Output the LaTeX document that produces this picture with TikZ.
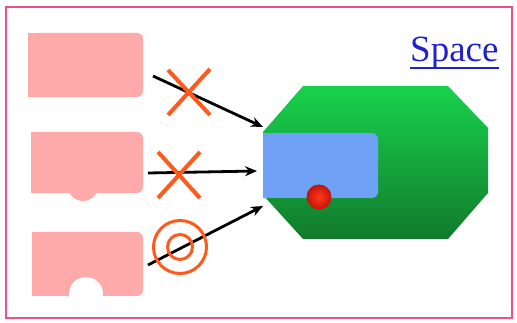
\documentclass[tikz,border=0pt]{standalone}
\usepackage{fontspec}
\setmainfont{Liberation Serif}
\usetikzlibrary{arrows.meta}
\definecolor{framepink}{HTML}{F0508A}
\definecolor{chip}{HTML}{FFAAAA}
\definecolor{markorange}{HTML}{FF5A1A}
\definecolor{greentop}{HTML}{18D24C}
\definecolor{greenmid}{HTML}{17B844}
\definecolor{greenbot}{HTML}{127A2C}
\definecolor{slot}{HTML}{6FA2F7}
\definecolor{linkblue}{HTML}{2222CC}
\definecolor{ballin}{HTML}{FF3A1A}
\definecolor{ballout}{HTML}{C41208}
\tikzset{
  chipbox/.style={rectangle, fill=chip, rounded corners=6pt, inner sep=0pt},
  link/.style={black, line width=2.8pt, -{Stealth[length=12pt,width=10pt]}},
  cross/.style={markorange, line width=4pt},
  ring/.style={markorange, line width=3pt},
}
\begin{document}
\begin{tikzpicture}[x=1pt,y=-1pt]
\useasboundingbox (0,0) rectangle (517,323);
\fill[white] (0,0) rectangle (517,323);
\draw[framepink, line width=2pt] (6,7) rectangle (512,318);

% three pieces on the left (square left side, rounded right side)
\node[chipbox, minimum width=115pt, minimum height=64pt] (c1) at (85.5,65) {};
\fill[chip] (c1.north west) rectangle ([xshift=20pt]c1.south west);
\node[chipbox, minimum width=112pt, minimum height=61pt] (c2) at (87,162.5) {};
\fill[chip] (c2.north west) rectangle ([xshift=20pt]c2.south west);
\fill[chip] (83,186) circle (15);
\node[chipbox, minimum width=111pt, minimum height=64pt] (c3) at (87.5,264) {};
\fill[chip] (c3.north west) rectangle ([xshift=20pt]c3.south west);
\fill[white] (86,294) circle (17);

% the space: chamfered green block with a blue slot and a red ball
\shade[top color=greentop, middle color=greenmid, bottom color=greenbot]
  (303,86) -- (448,86) -- (488,128) -- (488,193) -- (448,239)
  -- (303,239) -- (263,195) -- (263,132) -- cycle;
\node[rectangle, fill=slot, rounded corners=6pt, inner sep=0pt,
  minimum width=115pt, minimum height=65pt] (slot) at (320.5,165.5) {};
\fill[slot] (slot.north west) rectangle ([xshift=20pt]slot.south west);
\shade[inner color=ballin, outer color=ballout] (319,197) circle (12.5);

% arrows into the space
\coordinate (s1) at (153,76);
\coordinate (e1) at (263,127);
\coordinate (s2) at (148,173);
\coordinate (e2) at (257,171);
\coordinate (s3) at (148,265);
\coordinate (e3) at (263,206);
\draw[link] (s1) -- (e1);
\draw[link] (s2) -- (e2);
\draw[link] (s3) -- (e3);

% rejected / accepted marks
\draw[cross] (168,70) -- (210,115) (168,115) -- (210,69);
\draw[cross] (158,152) -- (200,198) (158,198) -- (200,152);
\draw[ring] (180,247) circle (26.5);
\draw[ring] (180,247) circle (12.5);

% title
\node[anchor=base west, inner sep=0pt, text=linkblue,
  font=\fontsize{37}{40}\selectfont] (title) at (410,62) {Space};
\draw[linkblue, line width=1.6pt] ([yshift=-6pt]title.base west) -- ([yshift=-6pt]title.base east);
\end{tikzpicture}
\end{document}
